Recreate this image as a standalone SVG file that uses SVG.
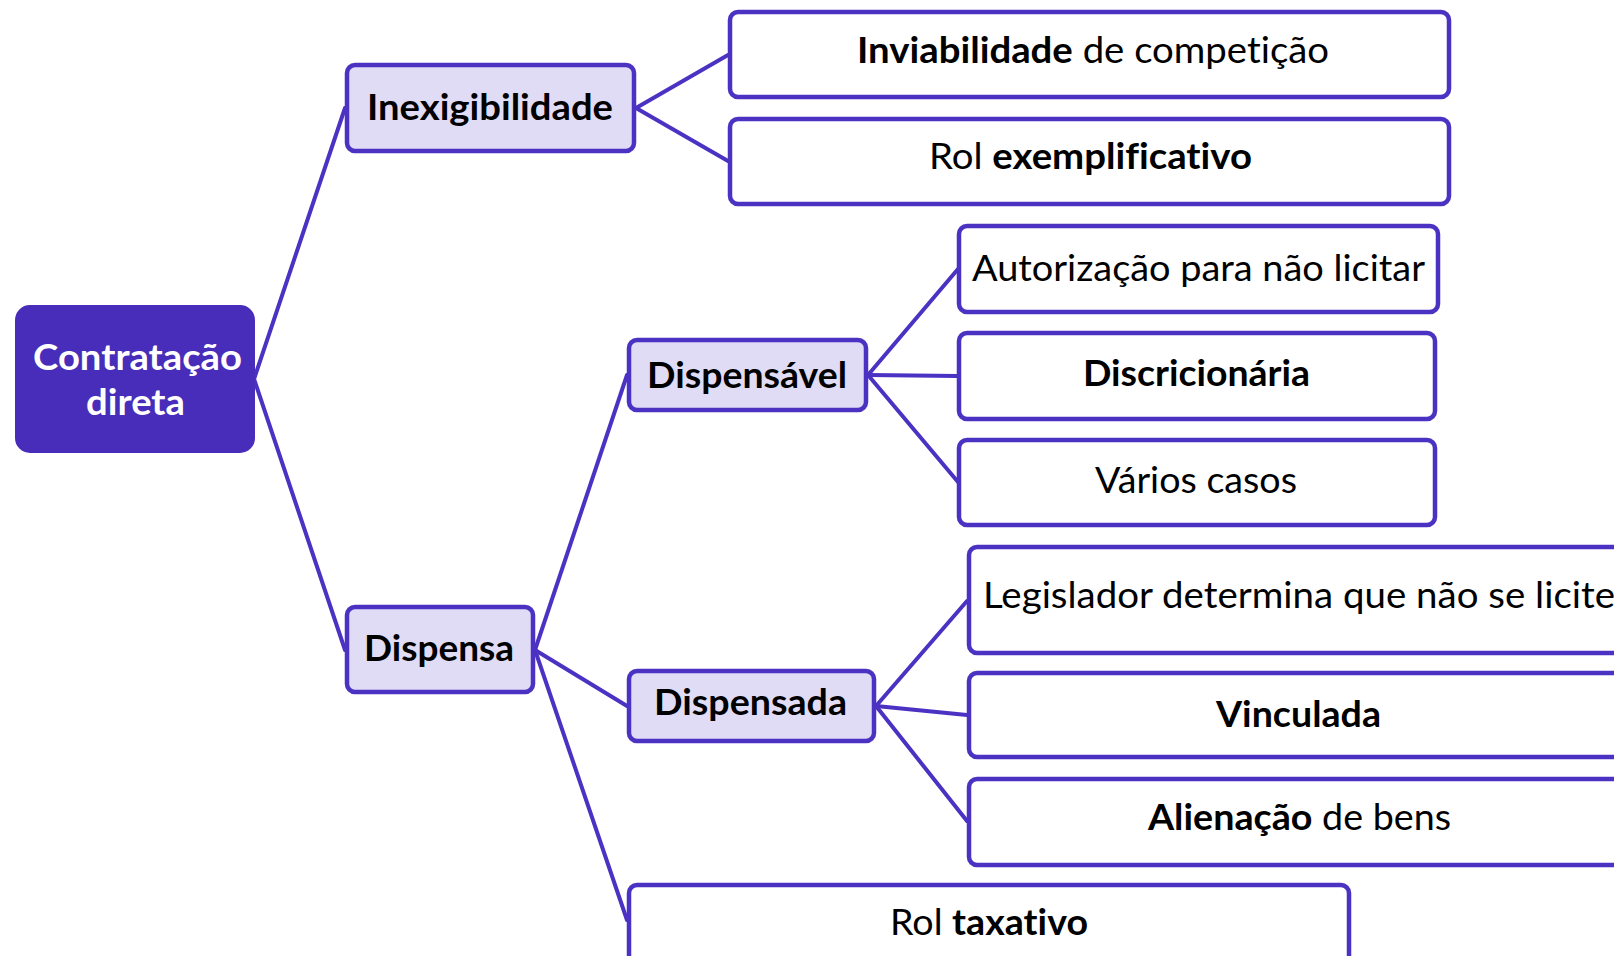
<svg xmlns="http://www.w3.org/2000/svg" width="1614" height="956" viewBox="0 0 1614 956">
<style>
  .box { fill: #ffffff; stroke: #4b32c3; stroke-width: 4.5; }
  .sub { fill: #e0dcf5; stroke: #4b32c3; stroke-width: 4.5; }
  .root { fill: #482dba; stroke: #482dba; stroke-width: 2; }
  .t { font-family: Lato, "Open Sans", "Liberation Sans", sans-serif; font-size: 37px; fill: #000000; font-variant-ligatures: none; }
  .b { font-weight: bold; }
  .w { fill: #ffffff; font-weight: bold; }
  .conn line { stroke: #4b32c3; stroke-width: 4; stroke-linecap: round; }
</style>
<rect width="1614" height="956" fill="#ffffff"/>
<g class="conn" id="connectors">
  <line x1="254" y1="379" x2="345" y2="108"/>
  <line x1="254" y1="379" x2="345" y2="650"/>
  <line x1="636" y1="108" x2="728" y2="55"/>
  <line x1="636" y1="108" x2="728" y2="161"/>
  <line x1="535" y1="650" x2="627" y2="375"/>
  <line x1="535" y1="650" x2="627" y2="706"/>
  <line x1="535" y1="650" x2="627" y2="920"/>
  <line x1="868" y1="375" x2="958" y2="269"/>
  <line x1="868" y1="375" x2="958" y2="376"/>
  <line x1="868" y1="375" x2="958" y2="482"/>
  <line x1="876" y1="706" x2="967" y2="601"/>
  <line x1="876" y1="706" x2="967" y2="715"/>
  <line x1="876" y1="706" x2="967" y2="821"/>
</g>
<g id="node-contratacao">
  <rect class="root" x="16" y="306" width="238" height="146" rx="14"/>
  <text class="t w" x="33" y="370" textLength="209" lengthAdjust="spacingAndGlyphs">Contratação</text>
  <text class="t w" x="86" y="415" textLength="99" lengthAdjust="spacingAndGlyphs">direta</text>
</g>
<g id="node-inexigibilidade">
  <rect class="sub" x="347" y="65" width="287" height="86" rx="8"/>
  <text class="t b" x="367" y="120" textLength="246" lengthAdjust="spacingAndGlyphs">Inexigibilidade</text>
</g>
<g id="node-inviabilidade">
  <rect class="box" x="730" y="12" width="719" height="85" rx="8"/>
  <text class="t" x="857" y="63" textLength="472" lengthAdjust="spacingAndGlyphs"><tspan class="b">Inviabilidade</tspan> de competição</text>
</g>
<g id="node-rol-exemplificativo">
  <rect class="box" x="730" y="119" width="719" height="85" rx="8"/>
  <text class="t" x="929" y="169" textLength="323" lengthAdjust="spacingAndGlyphs">Rol <tspan class="b">exemplificativo</tspan></text>
</g>
<g id="node-dispensa">
  <rect class="sub" x="347" y="607" width="186" height="85" rx="8"/>
  <text class="t b" x="364" y="661" textLength="150" lengthAdjust="spacingAndGlyphs">Dispensa</text>
</g>
<g id="node-dispensavel">
  <rect class="sub" x="629" y="340" width="237" height="70" rx="8"/>
  <text class="t b" x="647" y="388" textLength="200" lengthAdjust="spacingAndGlyphs">Dispensável</text>
</g>
<g id="node-autorizacao">
  <rect class="box" x="959" y="226" width="479" height="86" rx="8"/>
  <text class="t" x="972" y="281" textLength="453" lengthAdjust="spacingAndGlyphs">Autorização para não licitar</text>
</g>
<g id="node-discricionaria">
  <rect class="box" x="959" y="333" width="476" height="86" rx="8"/>
  <text class="t b" x="1083" y="386" textLength="227" lengthAdjust="spacingAndGlyphs">Discricionária</text>
</g>
<g id="node-varios-casos">
  <rect class="box" x="959" y="440" width="476" height="85" rx="8"/>
  <text class="t" x="1095" y="493" textLength="202" lengthAdjust="spacingAndGlyphs">Vários casos</text>
</g>
<g id="node-dispensada">
  <rect class="sub" x="629" y="671" width="245" height="70" rx="8"/>
  <text class="t b" x="654" y="715" textLength="193" lengthAdjust="spacingAndGlyphs">Dispensada</text>
</g>
<g id="node-legislador">
  <rect class="box" x="969" y="547" width="663" height="106" rx="8"/>
  <text class="t" x="983" y="608" textLength="632" lengthAdjust="spacingAndGlyphs">Legislador determina que não se licite</text>
</g>
<g id="node-vinculada">
  <rect class="box" x="969" y="673" width="663" height="84" rx="8"/>
  <text class="t b" x="1216" y="727" textLength="165" lengthAdjust="spacingAndGlyphs">Vinculada</text>
</g>
<g id="node-alienacao">
  <rect class="box" x="969" y="779" width="663" height="86" rx="8"/>
  <text class="t" x="1148" y="830" textLength="303" lengthAdjust="spacingAndGlyphs"><tspan class="b">Alienação</tspan> de bens</text>
</g>
<g id="node-rol-taxativo">
  <rect class="box" x="629" y="885" width="720" height="80" rx="8"/>
  <text class="t" x="890" y="935" textLength="198" lengthAdjust="spacingAndGlyphs">Rol <tspan class="b">taxativo</tspan></text>
</g>
</svg>
